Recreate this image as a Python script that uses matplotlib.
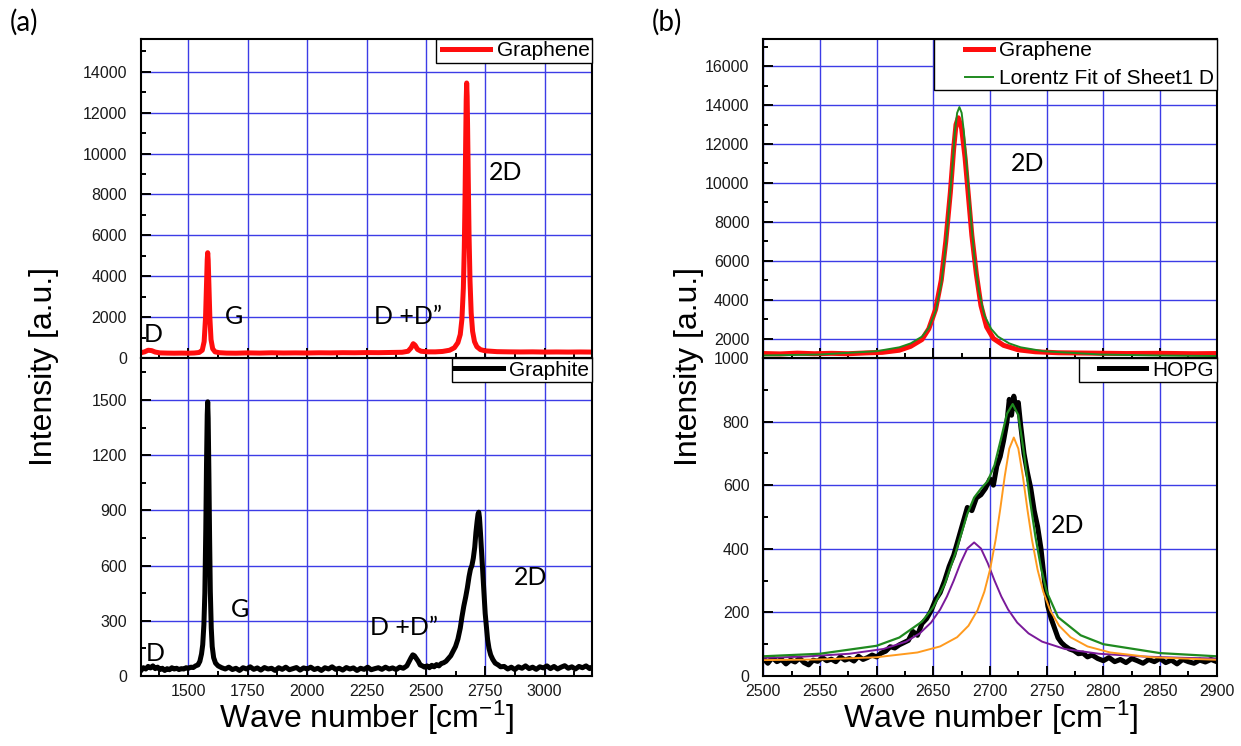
import matplotlib
matplotlib.use("Agg")
import matplotlib.pyplot as plt
from matplotlib.ticker import MultipleLocator
from matplotlib.legend_handler import HandlerLine2D
from matplotlib.lines import Line2D

plt.rcParams['font.family'] = ['Liberation Sans', 'DejaVu Sans']
plt.rcParams['mathtext.default'] = 'regular'

# ---------------- (a) top: Graphene ----------------
graphene_a_x = [1300, 1315, 1330, 1345, 1360, 1380, 1410, 1440, 1470, 1500, 1525, 1545, 1558, 1566, 1572,
                1576, 1579, 1581, 1583, 1586, 1590, 1595, 1602, 1612, 1630, 1660, 1700, 1750, 1800, 1850,
                1900, 1950, 2000, 2050, 2100, 2150, 2200, 2250, 2300, 2350, 2400, 2425, 2438, 2447, 2455,
                2465, 2480, 2510, 2540, 2570, 2600, 2620, 2635, 2645, 2652, 2658, 2662, 2665, 2668, 2670,
                2672, 2674, 2676, 2679, 2682, 2686, 2691, 2697, 2705, 2715, 2730, 2750, 2800, 2850, 2900,
                2950, 3000, 3050, 3100, 3150, 3200]
graphene_a_y = [260, 300, 380, 360, 290, 250, 240, 235, 240, 235, 245, 270, 380, 800, 2000,
                3600, 4800, 5150, 4800, 3600, 2000, 900, 450, 300, 260, 240, 235, 250, 240, 255,
                245, 250, 245, 255, 250, 260, 255, 265, 260, 270, 280, 330, 500, 700, 620,
                420, 330, 300, 300, 320, 380, 500, 750, 1150, 1900, 3400, 5400, 7700, 10700, 12600,
                13450, 12800, 11200, 8500, 6000, 3800, 2200, 1300, 800, 550, 410, 350, 310, 300, 295,
                300, 290, 295, 290, 295, 290]

# ---------------- (a) bottom: Graphite ----------------
graphite_x = [1300, 1310, 1320, 1330, 1340, 1350, 1360, 1370, 1380, 1390, 1400, 1410, 1420, 1430, 1440,
              1450, 1460, 1470, 1480, 1490, 1500, 1510, 1520, 1530, 1540, 1548, 1555, 1560, 1565, 1569,
              1573, 1576, 1579, 1581, 1583, 1586, 1589, 1592, 1596, 1600, 1606, 1614, 1625, 1640, 1655,
              1670, 1685, 1700, 1715, 1730, 1745, 1760, 1775, 1790, 1805, 1820, 1835, 1850, 1865, 1880,
              1895, 1910, 1925, 1940, 1955, 1970, 1985, 2000, 2015, 2030, 2045, 2060, 2075, 2090, 2105,
              2120, 2135, 2150, 2165, 2180, 2195, 2210, 2225, 2240, 2255, 2270, 2285, 2300, 2315, 2330,
              2345, 2360, 2375, 2390, 2405, 2420, 2430, 2438, 2445, 2452, 2460, 2468, 2476, 2485, 2495,
              2505, 2515, 2525, 2535, 2545, 2555, 2565, 2575, 2585, 2595, 2605, 2615, 2625, 2635, 2645,
              2652, 2660, 2668, 2675, 2682, 2688, 2694, 2700, 2706, 2711, 2716, 2720, 2723, 2726, 2730,
              2734, 2738, 2742, 2746, 2750, 2755, 2760, 2766, 2773, 2782, 2792, 2805, 2815, 2830, 2845,
              2860, 2875, 2890, 2905, 2920, 2935, 2950, 2965, 2980, 2995, 3010, 3025, 3040, 3055, 3070,
              3085, 3100, 3115, 3130, 3145, 3160, 3175, 3190, 3200]
graphite_y = [30, 45, 38, 52, 44, 55, 40, 48, 35, 42, 30, 40, 34, 45, 38,
              42, 35, 40, 38, 45, 42, 48, 46, 55, 60, 80, 120, 170, 280, 450,
              800, 1150, 1420, 1490, 1400, 1100, 750, 460, 260, 160, 100, 70, 55, 45, 38,
              48, 35, 42, 30, 45, 38, 50, 36, 44, 32, 46, 38, 42, 30, 45,
              36, 48, 34, 40, 46, 32, 44, 38, 48, 35, 42, 30, 45, 38, 50,
              36, 42, 32, 46, 38, 44, 30, 42, 36, 48, 34, 40, 45, 36, 48,
              38, 44, 35, 48, 42, 55, 80, 100, 115, 110, 95, 80, 60, 55, 48,
              55, 45, 58, 50, 62, 55, 68, 72, 80, 95, 110, 135, 160, 200, 260,
              320, 380, 430, 480, 540, 580, 600, 640, 700, 780, 840, 880, 890, 860, 780,
              690, 600, 520, 420, 340, 270, 200, 150, 115, 90, 70, 60, 50, 52, 38,
              48, 35, 50, 42, 55, 40, 48, 36, 50, 44, 55, 40, 52, 38, 48,
              56, 42, 50, 38, 52, 45, 55, 40, 48]

# ---------------- (b) top: Graphene 2D + Lorentz fit ----------------
graphene_b_x = [2500, 2515, 2530, 2545, 2560, 2575, 2590, 2605, 2620, 2630, 2640, 2646, 2652, 2657, 2661,
                2665, 2668, 2670, 2672, 2675, 2678, 2681, 2684, 2688, 2692, 2697, 2703, 2712, 2725, 2740,
                2760, 2790, 2820, 2850, 2880, 2900]
graphene_b_y = [1230, 1210, 1250, 1220, 1240, 1220, 1260, 1290, 1400, 1600, 1950, 2500, 3500, 5000, 7000,
                9500, 11800, 13000, 13350, 12800, 11300, 9300, 7300, 5300, 3700, 2600, 2000, 1650, 1420, 1320,
                1270, 1250, 1230, 1240, 1220, 1230]
fit_b_x = [2500, 2550, 2600, 2620, 2630, 2640, 2646, 2652, 2657, 2661, 2664, 2667, 2669, 2671, 2673,
           2675, 2677, 2680, 2683, 2686, 2690, 2695, 2701, 2707, 2717, 2727, 2747, 2797, 2847, 2900]
fit_b_y = [1130, 1180, 1350, 1550, 1750, 2100, 2550, 3400, 4800, 6800, 8800, 11000, 12600, 13600, 13900,
           13600, 12600, 10500, 8300, 6300, 4500, 3200, 2500, 2100, 1750, 1550, 1350, 1180, 1130, 1100]

# ---------------- (b) bottom: HOPG 2D + fits ----------------
hopg_x = [2500, 2504, 2508, 2512, 2516, 2520, 2524, 2528, 2532, 2536, 2540, 2544, 2548, 2552, 2556,
          2560, 2564, 2568, 2572, 2576, 2580, 2584, 2588, 2592, 2596, 2600, 2604, 2608, 2612, 2616,
          2620, 2624, 2628, 2632, 2636, 2640, 2644, 2648, 2652, 2656, 2660, 2664, 2668, 2672, 2676,
          2680, 2684, 2688, 2692, 2696, 2700, 2703, 2706, 2709, 2712, 2715, 2717, 2719, 2721, 2723,
          2725, 2727, 2730, 2733, 2736, 2739, 2742, 2745, 2748, 2751, 2754, 2757, 2760, 2763, 2766,
          2770, 2774, 2778, 2782, 2786, 2790, 2795, 2800, 2805, 2810, 2815, 2820, 2825, 2830, 2835,
          2840, 2845, 2850, 2855, 2860, 2865, 2870, 2875, 2880, 2885, 2890, 2895, 2900]
hopg_y = [55, 40, 58, 45, 52, 38, 50, 44, 56, 42, 35, 50, 46, 58, 48,
          53, 45, 60, 50, 55, 47, 62, 52, 58, 66, 60, 72, 78, 92, 88,
          98, 105, 112, 140, 128, 165, 180, 205, 240, 262, 300, 345, 380, 430, 480,
          530, 520, 560, 570, 590, 620, 600, 660, 690, 740, 800, 870, 820, 880, 840,
          860, 790, 700, 640, 590, 520, 470, 400, 300, 220, 180, 150, 120, 105, 95,
          85, 80, 70, 72, 60, 66, 55, 48, 58, 45, 52, 42, 55, 48, 40,
          52, 45, 55, 42, 50, 38, 52, 45, 40, 50, 44, 52, 45]
fit_hopg_x = [2500, 2550, 2600, 2620, 2640, 2650, 2660, 2670, 2680, 2686, 2692, 2698, 2704, 2710, 2715,
              2720, 2725, 2730, 2735, 2740, 2745, 2750, 2760, 2780, 2800, 2850, 2900]
fit_hopg_y = [62, 70, 95, 121, 171, 217, 289, 392, 510, 561, 589, 613, 663, 750, 825,
              855, 820, 700, 560, 440, 340, 265, 185, 128, 100, 72, 62]
peak1_x = [2500, 2536, 2576, 2606, 2626, 2638, 2648, 2656, 2662, 2668, 2674, 2680, 2686, 2692, 2698,
           2704, 2710, 2716, 2724, 2734, 2746, 2766, 2796, 2836, 2872, 2900]
peak1_y = [57, 61, 70, 85, 108, 134, 168, 209, 250, 300, 355, 401, 420, 401, 355,
           300, 250, 209, 168, 134, 108, 85, 70, 61, 57, 55]
peak2_x = [2500, 2550, 2600, 2636, 2656, 2671, 2681, 2689, 2695, 2700, 2705, 2709, 2713, 2717, 2721,
           2725, 2729, 2733, 2737, 2742, 2747, 2753, 2761, 2771, 2786, 2806, 2842, 2892, 2900]
peak2_y = [50, 52, 59, 74, 93, 122, 158, 207, 265, 334, 429, 524, 628, 715, 750,
           715, 628, 524, 429, 334, 265, 207, 158, 122, 93, 74, 59, 52, 51]

# ---------------- texts ----------------
xlabel_text = 'Wave number [cm$^{-1}$]'
ylabel_text = 'Intensity [a.u.]'

W, H = 1241, 746
fig = plt.figure(figsize=(W / 100, H / 100), dpi=100)

def fx(px):
    return px / W

def fy(py):
    return 1 - py / H

yt, ym, yb = 39, 358, 676
axA_top = fig.add_axes([fx(141), fy(ym), fx(592) - fx(141), fy(yt) - fy(ym)])
axA_bot = fig.add_axes([fx(141), fy(yb), fx(592) - fx(141), fy(ym) - fy(yb)])
axB_top = fig.add_axes([fx(763.3), fy(ym), fx(1216.7) - fx(763.3), fy(yt) - fy(ym)])
axB_bot = fig.add_axes([fx(763.3), fy(yb), fx(1216.7) - fx(763.3), fy(ym) - fy(yb)])

grid_color = '#3c3ce6'

def style(ax, xlim, ylim, xmaj, xmin, ymaj, ymin, showx):
    ax.set_xlim(*xlim)
    ax.set_ylim(*ylim)
    ax.xaxis.set_major_locator(MultipleLocator(xmaj))
    ax.xaxis.set_minor_locator(MultipleLocator(xmin))
    ax.yaxis.set_major_locator(MultipleLocator(ymaj))
    ax.yaxis.set_minor_locator(MultipleLocator(ymin))
    ax.grid(True, which='major', color=grid_color, lw=1.0)
    ax.set_axisbelow(True)
    ax.tick_params(which='both', direction='in', top=False, right=False,
                   labelsize=11.5, width=1.4, color='black', labelcolor='#1a1a1a')
    ax.tick_params(axis='y', which='both', pad=10)
    ax.tick_params(axis='x', which='both', pad=6)
    ax.tick_params(which='major', length=7)
    ax.tick_params(which='minor', length=3.5)
    for s in ax.spines.values():
        s.set_linewidth(1.5)
        s.set_color('black')
    if not showx:
        ax.tick_params(labelbottom=False)

style(axA_top, (1300, 3200), (0, 15600), 250, 125, 2000, 1000, False)
style(axA_bot, (1300, 3200), (0, 1728), 250, 125, 300, 150, True)
style(axB_top, (2500, 2900), (1000, 17400), 50, 25, 2000, 1000, False)
style(axB_bot, (2500, 2900), (0, 1000), 50, 25, 200, 100, True)

red = '#ff0d0d'
green = '#1f8a1f'
axA_top.plot(graphene_a_x, graphene_a_y, color=red, lw=3.6, label='Graphene', solid_joinstyle='round')
axA_bot.plot(graphite_x, graphite_y, color='black', lw=3.6, label='Graphite', solid_joinstyle='round')
axB_top.plot(graphene_b_x, graphene_b_y, color=red, lw=3.6, label='Graphene', solid_joinstyle='round')
axB_top.plot(fit_b_x, fit_b_y, color=green, lw=1.4, label='Lorentz Fit of Sheet1 D')
axB_bot.plot(hopg_x, hopg_y, color='black', lw=3.6, label='HOPG', solid_joinstyle='round')
axB_bot.plot(peak1_x, peak1_y, color='#7a1a9a', lw=1.4)
axB_bot.plot(peak2_x, peak2_y, color='#ff9a1e', lw=1.4)
axB_bot.plot(fit_hopg_x, fit_hopg_y, color=green, lw=1.6)

def legend(ax, hl, xpad, ls=0.25):
    leg = ax.legend(loc='upper right', borderaxespad=0, fancybox=False, edgecolor='black',
                    framealpha=1, fontsize=15, handlelength=hl, borderpad=0.12,
                    labelspacing=ls, handletextpad=0.3,
                    handler_map={Line2D: HandlerLine2D(xpad=xpad)})
    leg.get_frame().set_linewidth(1.0)
    return leg

legend(axA_top, 2.5, 0.2)
legend(axA_bot, 2.35, 0.05)
legend(axB_top, 2.7, 1.35, ls=0.4)
legend(axB_bot, 3.1, 0.8)

ann = dict(family=['Lato', 'DejaVu Sans'], fontsize=18, va='center', ha='left', color='black')
axA_top.text(1312, 1126, 'D', **ann)
axA_top.text(1655, 2007, 'G', **ann)
axA_top.text(2283, 2007, 'D +D\u201d', **ann)
axA_top.text(2766, 9056, '2D', **ann)
axA_bot.text(1318, 120, 'D', **ann)
axA_bot.text(1678, 359, 'G', **ann)
axA_bot.text(2266, 266, 'D +D\u201d', **ann)
axA_bot.text(2871, 533, '2D', **ann)
axB_top.text(2718, 11000, '2D', **ann)
axB_bot.text(2754, 473, '2D', **ann)

fig.text(fx(24), fy(22), '(a)', family=['Lato', 'DejaVu Sans'], fontsize=20, ha='center', va='center')
fig.text(fx(667), fy(22), '(b)', family=['Lato', 'DejaVu Sans'], fontsize=20, ha='center', va='center')

fig.text(fx(44), fy(366), ylabel_text, rotation=90, fontsize=23, ha='center', va='center')
fig.text(fx(689), fy(366), ylabel_text, rotation=90, fontsize=23, ha='center', va='center')
fig.text(fx(366.5), fy(718), xlabel_text, fontsize=23, ha='center', va='center')
fig.text(fx(990), fy(718), xlabel_text, fontsize=23, ha='center', va='center')

fig.savefig('out.png', dpi=100)
